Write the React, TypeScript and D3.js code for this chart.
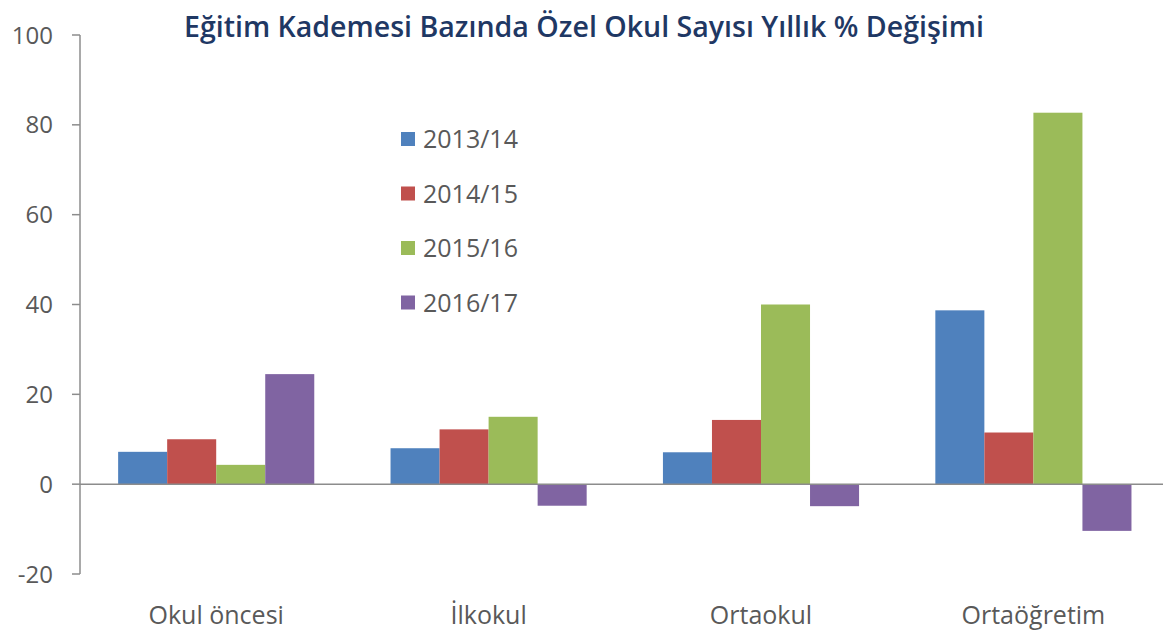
import React from "react";
import * as d3 from "d3";

const categories = ["Okul öncesi", "İlkokul", "Ortaokul", "Ortaöğretim"];
const seriesNames = ["2013/14", "2014/15", "2015/16", "2016/17"];
const s2013 = [7.2, 8.0, 7.1, 38.7];
const s2014 = [10.0, 12.2, 14.3, 11.5];
const s2015 = [4.3, 15.0, 40.0, 82.7];
const s2016 = [24.5, -4.8, -4.9, -10.4];
const yTicks = [-20, 0, 20, 40, 60, 80, 100];
const colors = ["#4F81BD", "#C0504D", "#9BBB59", "#8064A2"];
const title = "Eğitim Kademesi Bazında Özel Okul Sayısı Yıllık % Değişimi";

export default function App() {
  const W = 1163, H = 632;
  const series = [s2013, s2014, s2015, s2016];
  const axisX = 80;
  const step = 272.4;
  const x0 = d3.scaleBand<string>().domain(categories).range([axisX, axisX + step * 4]).paddingInner(0.28).paddingOuter(0.14);
  const x1 = d3.scaleBand<string>().domain(seriesNames).range([0, x0.bandwidth()]).padding(0);
  const y = d3.scaleLinear().domain([-20, 100]).range([574, 35]);
  const font = "'Open Sans', 'Noto Sans', sans-serif";
  const txt = "#595959";
  const axisCol = "#8c8c8c";
  return (
    <svg width={W} height={H} style={{ position: "absolute", left: 0, top: 0, background: "#fff" }} fontFamily={font}>
      <rect width={W} height={H} fill="#fff" />
      <text x={584} y={37} textAnchor="middle" fontSize={29} fontWeight={600} fill="#1F3864" textLength={800} lengthAdjust="spacingAndGlyphs">{title}</text>
      {/* y axis */}
      <line x1={axisX} x2={axisX} y1={y(100)} y2={y(-20)} stroke={axisCol} strokeWidth={1.5} />
      {yTicks.map(t => (
        <g key={t}>
          <line x1={axisX - 8} x2={axisX} y1={y(t)} y2={y(t)} stroke={axisCol} strokeWidth={1.5} />
          <text x={53} y={y(t)} dy="0.36em" textAnchor="end" fontSize={24} fill={txt}>{t}</text>
        </g>
      ))}
      {/* bars */}
      {categories.map((c, ci) => (
        <g key={c} transform={`translate(${x0(c)},0)`}>
          {seriesNames.map((s, si) => {
            const v = series[si][ci];
            return (
              <rect key={s} x={x1(s)} width={x1.bandwidth()} y={y(Math.max(0, v))} height={Math.abs(y(v) - y(0))} fill={colors[si]} />
            );
          })}
        </g>
      ))}
      {/* zero line */}
      <line x1={axisX} x2={W} y1={y(0)} y2={y(0)} stroke={axisCol} strokeWidth={1.5} />
      {/* category labels */}
      {categories.map(c => (
        <text key={c} x={(x0(c) as number) + x0.bandwidth() / 2} y={624} textAnchor="middle" fontSize={25} fill={txt}>{c}</text>
      ))}
      {/* legend */}
      {seriesNames.map((s, i) => (
        <g key={s} transform={`translate(401, ${139 + i * 54.5})`}>
          <rect x={0} y={-7} width={14} height={14} fill={colors[i]} />
          <text x={22} y={0} dy="0.36em" fontSize={25} fill={txt}>{s}</text>
        </g>
      ))}
    </svg>
  );
}
